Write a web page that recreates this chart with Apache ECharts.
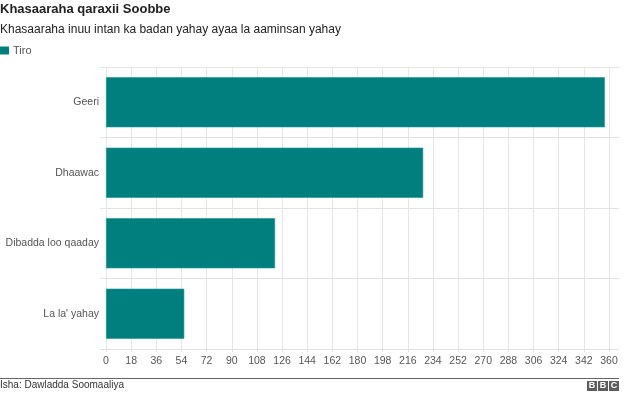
<!DOCTYPE html>
<html>
<head>
<meta charset="utf-8">
<script src="https://cdn.jsdelivr.net/npm/echarts@6/dist/echarts.min.js"></script>
<style>
html,body{margin:0;padding:0;background:#fff;}
#chart{width:640px;height:394px;}
</style>
</head>
<body>
<div id="chart"></div>
<script>
var titleText = "Khasaaraha qaraxii Soobbe";
var subtitleText = "Khasaaraha inuu intan ka badan yahay ayaa la aaminsan yahay";
var sourceText = "Isha: Dawladda Soomaaliya";
var seriesName = "Tiro";
var categories = ["Geeri", "Dhaawac", "Dibadda loo qaaday", "La la' yahay"];
var values = [357, 227, 121, 56];
var tickStep = 18;
var tickMax = 360;

var FONT = "'Liberation Sans', Arial, Helvetica, sans-serif";
var chart = echarts.init(document.getElementById('chart'), null, {renderer: 'canvas'});
var option = {
  animation: false,
  backgroundColor: '#ffffff',
  title: {
    text: titleText,
    subtext: subtitleText,
    left: 0,
    top: 3,
    padding: 0,
    itemGap: 8,
    textStyle: {fontFamily: FONT, fontSize: 13, fontWeight: 'bold', color: '#222222'},
    subtextStyle: {fontFamily: FONT, fontSize: 12, color: '#222222'}
  },
  legend: {
    left: 0,
    top: 45,
    padding: 0,
    icon: 'rect',
    itemWidth: 9,
    itemHeight: 8,
    itemGap: 5,
    itemStyle: {borderWidth: 0},
    textStyle: {fontFamily: FONT, fontSize: 11, color: '#555555', padding: [0, 0, 0, -1]},
    data: [seriesName]
  },
  grid: {left: 106, right: 21, top: 67, bottom: 45, containLabel: false, outerBoundsMode: 'none'},
  xAxis: {
    type: 'value',
    min: 0,
    max: tickMax * 513 / 503,
    interval: tickStep,
    axisLine: {show: false},
    axisTick: {show: true, length: 3, lineStyle: {color: '#e3e3e3'}},
    axisLabel: {fontFamily: FONT, fontSize: 10.5, color: '#555555', margin: 7, showMaxLabel: false},
    splitLine: {show: true, showMaxLine: false, lineStyle: {color: '#e6e6e6', width: 1}}
  },
  yAxis: {
    type: 'category',
    inverse: true,
    data: categories,
    axisLine: {show: false},
    axisTick: {show: true, length: 6, lineStyle: {color: '#e3e3e3'}},
    axisLabel: {fontFamily: FONT, fontSize: 10.5, color: '#555555', margin: 7},
    splitLine: {show: true, lineStyle: {color: '#e3e3e3', width: 1}}
  },
  series: [{
    name: seriesName,
    type: 'bar',
    data: values,
    barCategoryGap: '29%',
    itemStyle: {color: '#007f7e', borderColor: '#1a9796', borderWidth: 0.6}
  }],
  graphic: [
    {type: 'line', shape: {x1: 0, y1: 378.5, x2: 619, y2: 378.5}, style: {stroke: '#666666', lineWidth: 1.2}},
    {type: 'text', left: 0, top: 380, style: {text: sourceText, font: '10px ' + FONT, fill: '#333333'}},
    {type: 'rect', shape: {x: 587, y: 381, width: 10, height: 10}, style: {fill: '#5e5e5e'}},
    {type: 'rect', shape: {x: 598, y: 381, width: 10, height: 10}, style: {fill: '#5e5e5e'}},
    {type: 'rect', shape: {x: 609, y: 381, width: 10, height: 10}, style: {fill: '#5e5e5e'}},
    {type: 'text', x: 592, y: 386, style: {text: 'B', font: 'bold 9px ' + FONT, fill: '#ffffff', align: 'center', verticalAlign: 'middle'}},
    {type: 'text', x: 603, y: 386, style: {text: 'B', font: 'bold 9px ' + FONT, fill: '#ffffff', align: 'center', verticalAlign: 'middle'}},
    {type: 'text', x: 614, y: 386, style: {text: 'C', font: 'bold 9px ' + FONT, fill: '#ffffff', align: 'center', verticalAlign: 'middle'}}
  ]
};
chart.setOption(option);
</script>
</body>
</html>
